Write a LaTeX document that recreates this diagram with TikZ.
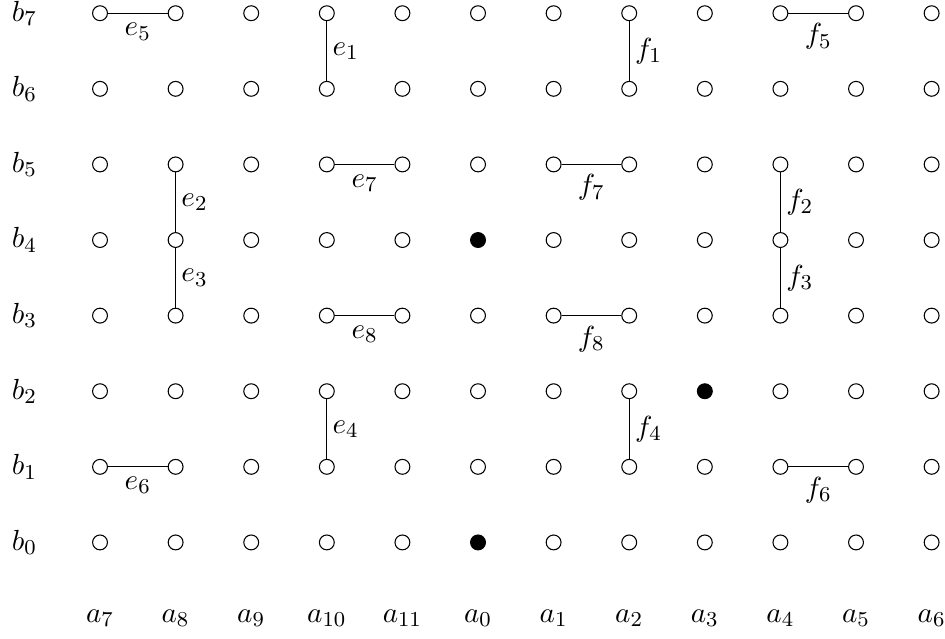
\documentclass[11pt,tikz,border=0pt]{standalone}
\usetikzlibrary{positioning}
\tikzset{
  gridpt/.style={circle,draw=black,fill=white,thin,inner sep=0pt,minimum size=5.6pt},
  heldpt/.style={fill=black},
  fill a0-b4/.style={heldpt},
  fill a0-b0/.style={heldpt},
  fill a3-b2/.style={heldpt},
  pairline/.style={draw=black,thin},
  sidelab/.style={right,inner sep=2pt},
  axislab/.style={inner sep=1pt}
}

\begin{document}
\begin{tikzpicture}
  \useasboundingbox (-1.323,-1.273) rectangle (11.177,7.175);

  % grid of points, columns a7..a11,a0..a6
  \foreach \a [count=\i from 0] in {7,8,9,10,11,0,1,2,3,4,5,6} {
    \node[axislab] (lab-a\a) at (\i,-1) {$a_{\a}$};
    \foreach \b in {0,...,7}
      \node[gridpt, fill a\a-b\b/.try] (a\a-b\b) at (\i,\b) {};
  }
  \foreach \b in {0,...,7}
    \node[axislab] (lab-b\b) at (-1,\b) {$b_{\b}$};

  % e pairs
  \draw[pairline] (a7-b7)  -- node[below] {$e_5$} (a8-b7);
  \draw[pairline] (a10-b7) -- node[sidelab] {$e_1$} (a10-b6);
  \draw[pairline] (a8-b5)  -- node[sidelab] {$e_2$} (a8-b4);
  \draw[pairline] (a8-b4)  -- node[sidelab] {$e_3$} (a8-b3);
  \draw[pairline] (a10-b5) -- node[below] {$e_7$} (a11-b5);
  \draw[pairline] (a10-b3) -- node[below] {$e_8$} (a11-b3);
  \draw[pairline] (a10-b2) -- node[sidelab] {$e_4$} (a10-b1);
  \draw[pairline] (a7-b1)  -- node[below] {$e_6$} (a8-b1);

  % f pairs
  \draw[pairline] (a2-b7) -- node[sidelab] {$f_1$} (a2-b6);
  \draw[pairline] (a4-b7) -- node[below] {$f_5$} (a5-b7);
  \draw[pairline] (a1-b5) -- node[below] {$f_7$} (a2-b5);
  \draw[pairline] (a4-b5) -- node[sidelab] {$f_2$} (a4-b4);
  \draw[pairline] (a4-b4) -- node[sidelab] {$f_3$} (a4-b3);
  \draw[pairline] (a1-b3) -- node[below] {$f_8$} (a2-b3);
  \draw[pairline] (a2-b2) -- node[sidelab] {$f_4$} (a2-b1);
  \draw[pairline] (a4-b1) -- node[below] {$f_6$} (a5-b1);
\end{tikzpicture}
\end{document}
